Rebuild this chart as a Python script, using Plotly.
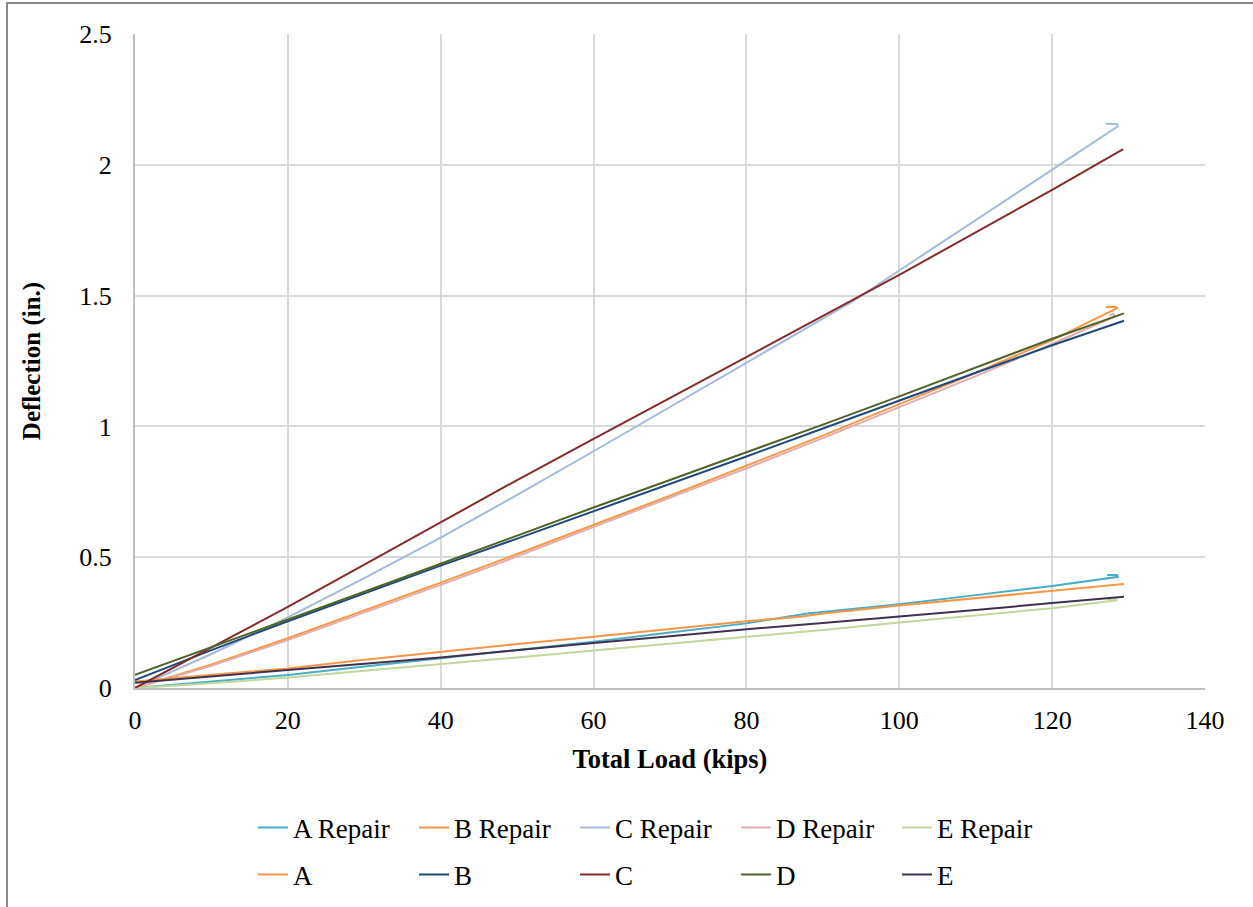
import plotly.graph_objects as go

# ---- data (Total Load in kips, Deflection in inches) ----
a_rep_x = [0, 10, 20, 30, 40, 50, 60, 70, 80, 88, 100, 110, 120, 128.6, 128.5, 127.2]
a_rep_y = [0.0, 0.024, 0.05, 0.082, 0.113, 0.145, 0.177, 0.212, 0.247, 0.285, 0.32, 0.355, 0.39, 0.425, 0.432, 0.432]

b_rep_x = [0, 10, 20, 30, 40, 50, 60, 70, 80, 90, 100, 110, 120, 128.5, 128.4, 127.0]
b_rep_y = [0.0, 0.09, 0.19, 0.295, 0.403, 0.512, 0.623, 0.735, 0.85, 0.965, 1.085, 1.205, 1.33, 1.452, 1.456, 1.456]

c_rep_x = [0, 10, 20, 30, 40, 50, 60, 70, 80, 94, 100, 110, 120, 128.6, 128.5, 127.0]
c_rep_y = [0.0, 0.13, 0.27, 0.42, 0.575, 0.738, 0.905, 1.075, 1.245, 1.48, 1.596, 1.788, 1.98, 2.147, 2.156, 2.157]

d_rep_x = [0, 10, 20, 30, 40, 50, 60, 70, 80, 90, 100, 110, 120, 128.2, 128.0, 127.5]
d_rep_y = [0.0, 0.085, 0.183, 0.287, 0.394, 0.503, 0.615, 0.727, 0.84, 0.955, 1.072, 1.192, 1.315, 1.42, 1.43, 1.425]

e_rep_x = [0, 10, 20, 30, 40, 50, 60, 70, 80, 90, 100, 110, 120, 128.5, 128.3, 127.2]
e_rep_y = [0.0, 0.018, 0.04, 0.065, 0.09, 0.117, 0.143, 0.169, 0.195, 0.222, 0.25, 0.278, 0.305, 0.335, 0.34, 0.34]

a_x = [0, 10, 20, 30, 40, 50, 60, 70, 80, 87, 90, 100, 110, 120, 129.4]
a_y = [0.025, 0.05, 0.075, 0.108, 0.139, 0.168, 0.196, 0.226, 0.255, 0.272, 0.285, 0.315, 0.343, 0.37, 0.398]

b_x = [0, 10, 20, 30, 40, 50, 60, 70, 80, 90, 100, 110, 120, 129.4]
b_y = [0.03, 0.145, 0.255, 0.362, 0.468, 0.571, 0.675, 0.78, 0.885, 0.992, 1.10, 1.205, 1.31, 1.404]

c_x = [0, 10, 20, 30, 40, 50, 60, 70, 80, 90, 100, 110, 120, 129.3]
c_y = [0.0, 0.155, 0.31, 0.472, 0.635, 0.795, 0.952, 1.108, 1.265, 1.422, 1.579, 1.742, 1.904, 2.06]

d_x = [0, 10, 20, 30, 40, 50, 60, 70, 80, 90, 100, 110, 120, 129.4]
d_y = [0.05, 0.155, 0.26, 0.368, 0.475, 0.583, 0.69, 0.795, 0.90, 1.007, 1.115, 1.225, 1.335, 1.432]

e_x = [0, 10, 20, 30, 40, 50, 60, 70, 80, 90, 100, 110, 120, 129.4]
e_y = [0.02, 0.045, 0.07, 0.093, 0.117, 0.145, 0.172, 0.198, 0.225, 0.248, 0.272, 0.298, 0.325, 0.349]

repair_names = ["A Repair", "B Repair", "C Repair", "D Repair", "E Repair"]
orig_names = ["A", "B", "C", "D", "E"]

repair_colors = ["#4BACC6", "#F79646", "#A3BADB", "#E2AEAD", "#C3D69B"]
orig_colors = ["#F79646", "#1F497D", "#862B2B", "#4F6228", "#403151"]

repair_data = [(a_rep_x, a_rep_y), (b_rep_x, b_rep_y), (c_rep_x, c_rep_y),
               (d_rep_x, d_rep_y), (e_rep_x, e_rep_y)]
orig_data = [(a_x, a_y), (b_x, b_y), (c_x, c_y), (d_x, d_y), (e_x, e_y)]

FONT = "Liberation Serif"

fig = go.Figure()
for name, color, (xs, ys) in zip(repair_names, repair_colors, repair_data):
    fig.add_trace(go.Scatter(x=xs, y=ys, name=name, mode="lines",
                             line=dict(color=color, width=2), legend="legend"))
for name, color, (xs, ys) in zip(orig_names, orig_colors, orig_data):
    fig.add_trace(go.Scatter(x=xs, y=ys, name=name, mode="lines",
                             line=dict(color=color, width=2), legend="legend2"))

L, T, R, B = 135, 34, 48, 219
W, H = 1253, 907
pw, ph = W - L - R, H - T - B

legend_common = dict(orientation="h", xanchor="left", yanchor="middle",
                     x=(253 - L) / pw, entrywidth=116, entrywidthmode="pixels",
                     font=dict(family=FONT, size=27, color="black"),
                     bgcolor="rgba(0,0,0,0)", borderwidth=0, tracegroupgap=0)

fig.update_layout(
    width=W, height=H,
    margin=dict(l=L, r=R, t=T, b=B, autoexpand=False),
    paper_bgcolor="white", plot_bgcolor="white",
    font=dict(family=FONT, size=26, color="black"),
    legend=dict(**legend_common, y=-(828 - (H - B)) / ph),
    legend2=dict(**legend_common, y=-(875 - (H - B)) / ph),
    xaxis=dict(range=[0, 140], dtick=20, tick0=0,
               showgrid=True, gridcolor="#D9D9D9", gridwidth=2,
               showline=True, linecolor="#BFBFBF", linewidth=2,
               zeroline=False, ticks="", ticklabelstandoff=8,
               tickfont=dict(family=FONT, size=26, color="black"),
               title=dict(text="<b>Total Load (kips)</b>", standoff=15,
                          font=dict(family=FONT, size=26.5, color="black"))),
    yaxis=dict(range=[0, 2.5], dtick=0.5, tick0=0,
               showgrid=True, gridcolor="#D9D9D9", gridwidth=2,
               showline=True, linecolor="#BFBFBF", linewidth=2,
               zeroline=False, ticks="", ticklabelstandoff=16,
               tickfont=dict(family=FONT, size=26, color="black"),
               title=dict(text="<b>Deflection (in.)</b>", standoff=32,
                          font=dict(family=FONT, size=25, color="black"))),
    shapes=[dict(type="rect", xref="paper", yref="paper",
                 x0=(7 - L) / pw, x1=(W + 10 - L) / pw,
                 y0=-(H + 10 - (H - B)) / ph, y1=(H - B - 3) / ph,
                 line=dict(color="#898989", width=2), fillcolor="rgba(0,0,0,0)",
                 layer="below")],
)

fig.write_html("out.html", config={"displayModeBar": False},
               post_script="document.body.style.margin='0';document.body.style.overflow='hidden';")
